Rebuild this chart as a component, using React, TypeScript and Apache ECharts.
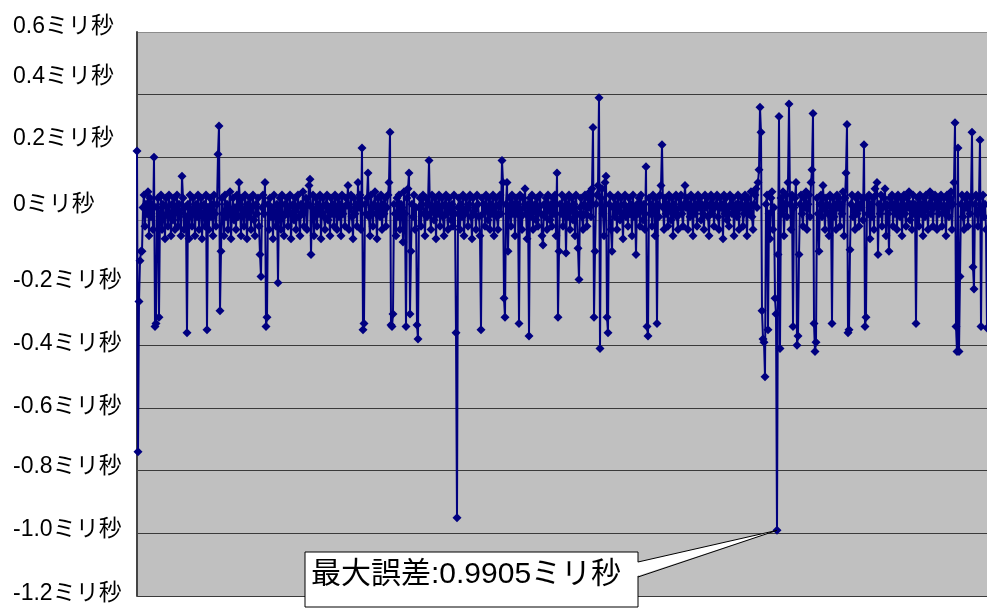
import React, { useEffect, useRef } from "react";
import * as echarts from "echarts";

// Timing error samples (milliseconds), in order.
const segmentA = [
  0.22, -0.74, -0.26, -0.13, -0.10, -0.10, 0.04, 0.08, -0.02, 0.05, 0.02, 0.09, -0.05, 0.07, 0.01, 0.05, -0.03, 0.20, -0.34, -0.33,
  0.04, 0.07, -0.31, 0.02, 0.08, -0.03, 0.05, 0.01, -0.06, 0.07, 0.04, -0.02, 0.08, 0.02, -0.05, 0.05, 0.00, 0.07, -0.03, 0.04,
  0.08, -0.02, 0.05, 0.02, -0.05, 0.14, 0.07, -0.03, 0.04, 0.01, -0.36, 0.05, -0.06, 0.08, 0.02, -0.02, 0.07, 0.04, -0.05, 0.05,
  0.01, 0.08, -0.03, 0.04, 0.07, -0.06, 0.02, 0.05, -0.02, 0.08, -0.35, 0.04, -0.03, 0.07, 0.01, 0.05, -0.05, 0.08, 0.02, -0.02,
  0.05, 0.21, 0.30, -0.29, -0.10, 0.07, 0.02, -0.05, 0.08, 0.01, 0.05, -0.03, 0.04, 0.09, -0.06, 0.02, 0.07, 0.00, 0.04, -0.03,
  0.08, 0.01, 0.12, 0.05, -0.05, 0.07, 0.02, -0.02, 0.08, 0.04, -0.06, 0.05, 0.01, 0.07, -0.03, 0.04, 0.08, 0.00, -0.05, 0.05,
  0.02, 0.07, -0.02, -0.11, -0.18, 0.04, 0.08, 0.02, 0.12, -0.34, -0.31, 0.05, -0.03, 0.07, 0.01, 0.04, -0.06, 0.08, 0.02, -0.02,
  0.05, -0.20, 0.04, 0.07, -0.03, 0.08, 0.01, -0.05, 0.05, 0.02, 0.07, -0.02, 0.04, 0.08, -0.06, 0.02, 0.05, 0.00, 0.07, -0.03,
  0.04, 0.08, 0.01, -0.05, 0.05, 0.02, 0.09, -0.02, 0.04, 0.07, -0.03, 0.05, 0.11, 0.13, -0.11, 0.04, 0.08, -0.05, 0.02, 0.07,
  -0.02, 0.05, 0.02, 0.08, -0.06, 0.04, 0.07, 0.01, -0.03, 0.05, 0.08, 0.00, 0.04, -0.05, 0.07, 0.02, 0.05, -0.02, 0.08, 0.04,
];
const segmentB = [
  -0.03, 0.07, 0.01, 0.05, -0.05, 0.08, 0.02, 0.04, -0.02, 0.07, 0.05, 0.11, -0.03, 0.04, 0.08, 0.01, -0.06, 0.07, 0.02, 0.05,
  -0.02, 0.12, 0.04, 0.08, -0.03, 0.23, -0.35, -0.33, 0.05, 0.02, 0.07, 0.15, 0.01, -0.05, 0.08, 0.04, -0.02, 0.05, 0.09, 0.02,
  -0.06, 0.07, 0.04, 0.01, 0.08, -0.03, 0.05, 0.02, 0.07, -0.02, 0.04, 0.08, 0.12, 0.28, -0.335, -0.34, -0.30, 0.05, 0.02, -0.05,
  0.07, 0.01, 0.08, -0.03, 0.05, 0.04, -0.07, 0.09, 0.02, -0.34, 0.07, 0.10, 0.15, -0.30, -0.10, 0.05, 0.01, 0.08, -0.03, 0.04,
  -0.335, -0.38, 0.04, 0.07, -0.02, 0.05, 0.08, 0.02, -0.05, 0.07, 0.01, 0.05, 0.19, 0.02, -0.03, 0.08, 0.04, 0.00, 0.07, -0.06,
  0.05, 0.02, 0.08, -0.02, 0.04, 0.07, 0.01, -0.05, 0.05, 0.08, 0.02, -0.03, 0.07, 0.04, 0.00, 0.05, -0.02, 0.08, 0.02, -0.36,
  -0.95, 0.04, 0.07, -0.03, 0.05, 0.01, 0.08, -0.05, 0.02, 0.07, 0.04, -0.02, 0.05, 0.08, 0.01, -0.06, 0.07, 0.02, 0.04, -0.03,
  0.08, 0.05, 0.01, -0.05, -0.35, 0.07, 0.02, 0.05, -0.02, 0.08, 0.04, 0.00, 0.07, -0.03, 0.05, 0.02, 0.08, -0.05, 0.04, 0.07,
  0.01, -0.03, 0.05, 0.08, 0.02, 0.19, 0.12, -0.25, -0.31, 0.05, 0.12, -0.10, 0.04, 0.07, -0.02, 0.08, 0.02, 0.05, -0.05, 0.07,
  0.02, 0.05, -0.33, 0.08, 0.01, -0.03, 0.07, 0.04, 0.10, 0.02, -0.06, 0.05, -0.37, 0.07, 0.01, 0.08, -0.03, 0.04, 0.05, 0.00,
];
const segmentC = [
  0.07, -0.02, 0.04, 0.08, 0.02, -0.05, -0.08, 0.05, 0.01, 0.07, -0.03, 0.08, 0.04, 0.00, 0.05, -0.02, 0.07, 0.02, 0.08, -0.05,
  0.15, -0.31, -0.10, 0.05, 0.02, 0.08, -0.02, 0.04, 0.07, -0.105, 0.05, 0.01, 0.08, -0.03, 0.04, 0.07, 0.00, 0.05, -0.05, 0.08,
  0.02, -0.09, -0.19, 0.04, 0.07, 0.01, -0.03, 0.05, 0.08, 0.02, -0.02, 0.07, 0.04, 0.09, 0.01, 0.10, 0.295, -0.31, -0.10, 0.05,
  0.08, 0.11, 0.39, -0.41, 0.07, 0.10, 0.02, -0.05, 0.12, 0.14, -0.31, -0.36, 0.05, 0.08, -0.03, -0.10, 0.04, 0.07, 0.01, 0.05,
  -0.03, 0.08, 0.04, 0.00, 0.07, 0.02, -0.06, 0.05, 0.08, 0.01, 0.04, -0.02, 0.07, 0.02, 0.05, -0.05, 0.08, 0.01, 0.04, -0.11,
  0.05, 0.02, 0.07, -0.02, 0.08, 0.04, 0.00, 0.05, -0.03, 0.17, -0.34, -0.37, 0.07, 0.02, 0.05, -0.02, 0.08, 0.04, -0.05, 0.07,
  -0.33, 0.05, 0.01, 0.08, 0.11, 0.24, 0.04, -0.03, 0.07, 0.02, 0.05, -0.02, 0.08, 0.04, 0.00, 0.07, -0.05, 0.05, 0.02, 0.08,
  0.01, -0.03, 0.07, 0.04, 0.08, 0.02, -0.02, 0.05, 0.11, 0.04, 0.07, -0.03, 0.05, 0.01, 0.08, 0.04, -0.05, 0.07, 0.02, 0.05,
  -0.02, 0.08, 0.04, 0.07, 0.00, 0.05, 0.02, -0.03, 0.08, 0.04, 0.07, 0.01, -0.05, 0.05, 0.08, 0.02, 0.07, -0.02, 0.04, 0.05,
  0.08, 0.01, -0.03, 0.07, 0.04, 0.05, -0.06, 0.08, 0.02, 0.07, 0.00, 0.04, -0.02, 0.08, 0.05, 0.02, 0.07, -0.05, 0.04, 0.05,
];
const segmentD = [
  0.01, 0.08, -0.03, 0.05, 0.04, 0.07, -0.02, 0.02, 0.08, 0.05, -0.05, 0.07, 0.02, 0.04, 0.09, 0.01, -0.03, 0.05, 0.08, 0.10,
  0.04, 0.12, 0.16, 0.36, 0.28, -0.29, -0.38, -0.39, -0.50, 0.05, 0.08, -0.35, 0.02, -0.06, 0.07, 0.09, -0.03, 0.04, -0.25, -0.30,
  -0.9905, -0.11, 0.33, -0.41, 0.07, 0.02, 0.09, -0.05, 0.05, 0.08, 0.01, 0.12, 0.37, 0.05, -0.03, 0.08, -0.34, 0.04, 0.07, 0.12,
  -0.40, -0.37, -0.11, 0.05, 0.08, 0.02, -0.02, 0.07, 0.04, 0.09, -0.03, 0.05, 0.08, 0.01, 0.12, 0.16, 0.34, -0.33, -0.42, -0.39,
  0.07, 0.02, -0.10, 0.05, 0.08, 0.01, 0.11, 0.04, -0.03, 0.07, 0.05, 0.02, -0.05, 0.08, 0.04, -0.33, 0.07, 0.01, 0.05, -0.03,
  0.08, 0.04, 0.07, -0.02, 0.05, 0.02, 0.09, -0.05, 0.07, 0.15, 0.305, -0.36, -0.35, -0.095, 0.05, 0.08, 0.01, 0.04, -0.03, 0.07,
  0.02, 0.08, -0.02, 0.05, 0.04, 0.07, 0.00, 0.24, -0.34, -0.31, 0.07, 0.02, 0.08, -0.06, 0.05, 0.01, 0.07, -0.03, 0.10, 0.08,
  0.12, -0.11, 0.05, 0.02, 0.08, -0.02, 0.04, 0.07, 0.10, -0.05, 0.05, 0.02, -0.10, 0.07, 0.04, 0.08, -0.02, 0.05, 0.02, 0.07,
  -0.03, 0.08, 0.04, 0.01, 0.07, -0.05, 0.05, 0.08, 0.02, -0.02, 0.07, 0.04, 0.09, 0.00, 0.05, -0.03, 0.08, 0.02, 0.05, -0.33,
  0.04, 0.07, -0.02, 0.08, 0.02, 0.05, -0.05, 0.07, 0.01, 0.08, 0.04, -0.03, 0.05, 0.09, 0.02, 0.07, -0.02, 0.04, 0.08, 0.05,
];
const segmentE = [
  -0.03, 0.07, 0.02, 0.05, 0.08, -0.02, 0.04, 0.07, 0.02, -0.05, 0.08, 0.05, 0.01, 0.07, 0.09, -0.03, 0.05, 0.12, 0.31, -0.34,
  -0.42, 0.23, -0.42, -0.18, 0.05, 0.08, 0.01, -0.03, 0.07, 0.04, 0.08, -0.02, 0.05, 0.02, 0.07, 0.28, -0.15, -0.22, 0.05, 0.08,
  0.02, -0.02, 0.07, 0.255, -0.34, 0.04, 0.08, 0.01, 0.05, -0.03, -0.345,
];

const yTickValues = [0.6, 0.4, 0.2, 0, -0.2, -0.4, -0.6, -0.8, -1.0, -1.2];
const unitSuffix = "ミリ秒";
const maxErrorLabel = "最大誤差:0.9905ミリ秒";

const errorSeries = [...segmentA, ...segmentB, ...segmentC, ...segmentD, ...segmentE];
const sampleIndex = errorSeries.map((_, i) => String(i));

const FONT = "'Liberation Sans', Arial, 'Noto Sans CJK JP', sans-serif";
// vertical lift of each tick label above its gridline (layout only)
const labelLift = [7, 20, 20, 17, 4, 3, 3, 6, 5, 4];

function fmt(v: number) {
  const r = Math.round(v * 10) / 10;
  return (r === 0 ? "0" : r.toFixed(1)) + unitSuffix;
}

export default function App() {
  const ref = useRef<HTMLDivElement>(null);
  useEffect(() => {
    if (!ref.current) return;
    const chart = echarts.init(ref.current, undefined, { renderer: "svg" });
    const splitColors = yTickValues.map((_, i, a) =>
      i === a.length - 1 ? "#8c8c8c" : "#3a3a3a"
    );
    chart.setOption({
      animation: false,
      grid: {
        left: 137,
        top: 32,
        right: 0,
        bottom: 12,
        show: true,
        backgroundColor: "#c0c0c0",
        borderWidth: 0,
      },
      xAxis: {
        type: "category",
        data: sampleIndex,
        boundaryGap: false,
        axisLabel: { show: false },
        axisTick: { show: false },
        axisLine: { show: true, lineStyle: { color: "#8c8c8c", width: 1 } },
        splitLine: { show: false },
      },
      yAxis: {
        type: "value",
        min: -1.2,
        max: 0.6,
        interval: 0.2,
        axisLabel: { show: false },
        axisTick: { show: false },
        axisLine: { show: true, lineStyle: { color: "#444444", width: 2 } },
        splitLine: { show: true, lineStyle: { color: splitColors, width: 1 } },
      },
      series: [
        {
          type: "line",
          data: errorSeries,
          symbol: "diamond",
          symbolSize: 9,
          showAllSymbol: true,
          lineStyle: { color: "#000080", width: 2 },
          itemStyle: { color: "#000080" },
          emphasis: { disabled: true },
          silent: true,
        },
      ],
    });

    const graphics: any[] = [];
    yTickValues.forEach((v, i) => {
      const py = chart.convertToPixel({ yAxisIndex: 0 }, v) as number;
      graphics.push({
        type: "text",
        x: 13,
        y: py - labelLift[i],
        z: 100,
        style: {
          text: fmt(v),
          fontSize: 23,
          fontFamily: FONT,
          fill: "#000000",
          align: "left",
          verticalAlign: "middle",
        },
      });
    });

    let minIdx = 0;
    errorSeries.forEach((v, i) => {
      if (v < errorSeries[minIdx]) minIdx = i;
    });
    const [ax, ay] = chart.convertToPixel({ seriesIndex: 0 }, [
      minIdx,
      errorSeries[minIdx],
    ]) as number[];

    graphics.push(
      {
        type: "rect",
        z: 100,
        shape: { x: 305, y: 552, width: 333, height: 55 },
        style: { fill: "#ffffff", stroke: "#000000", lineWidth: 1 },
      },
      {
        type: "polygon",
        z: 101,
        shape: { points: [[636, 562.5], [ax, ay], [636, 576.5]] },
        style: { fill: "#ffffff", stroke: "none" },
      },
      {
        type: "polyline",
        z: 102,
        shape: { points: [[638, 562], [ax, ay], [638, 577]] },
        style: { stroke: "#000000", lineWidth: 1, fill: "none" },
      },
      {
        type: "text",
        z: 103,
        x: 311,
        y: 572,
        style: {
          text: maxErrorLabel,
          fontSize: 30,
          fontFamily: FONT,
          fill: "#000000",
          align: "left",
          verticalAlign: "middle",
        },
      }
    );
    chart.setOption({ graphic: graphics });

    return () => chart.dispose();
  }, []);
  return (
    <div
      ref={ref}
      style={{ position: "fixed", left: 0, top: 0, width: 987, height: 608 }}
    />
  );
}
